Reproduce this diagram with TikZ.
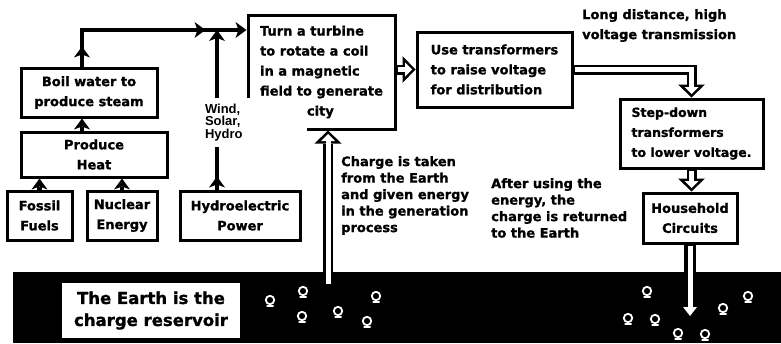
\documentclass[tikz,border=0pt]{standalone}
\usepackage{fontspec}
\setmainfont{DejaVu Sans}[BoldFeatures={FakeBold=1.2}]
\newfontfamily\windfont{Liberation Sans}
\usetikzlibrary{arrows.meta,decorations.markings}

\newcommand{\boxfont}{\fontsize{13}{20}\selectfont\bfseries}
\newcommand{\notefont}{\fontsize{13}{16.5}\selectfont\bfseries}
\newcommand{\earthfont}{\fontsize{16.5}{22}\selectfont\bfseries}

\tikzset{
  flowtip/.tip={Stealth[length=11pt,width=16pt,inset=3pt,line width=0pt]},
  flowbox/.style={draw, line width=3pt, inner sep=0pt, font=\boxfont, align=center},
  note/.style={inner sep=0pt, font=\notefont, align=left, anchor=north west},
  link/.style={line width=4.5pt, -flowtip},
  tipat/.style={postaction={decorate, decoration={markings, mark=at position #1 with {\arrow{flowtip}}}}},
  hollowout/.style={line width=10pt, -{Triangle[length=13pt,width=27pt,line width=0pt]}},
  hollowin/.style={white, line width=5pt, shorten <=1.5pt, shorten >=3.5pt, -{Triangle[length=7pt,width=14pt,line width=0pt]}},
  charge/.style={white, line width=1.8pt}
}

\begin{document}
\begin{tikzpicture}[x=1pt, y=-1pt]
\useasboundingbox (0,0) rectangle (781,343);

% generation side
\node[flowbox, minimum width=65, minimum height=49] (fossil) at (39.5,215.5) {Fossil\\Fuels};
\node[flowbox, minimum width=70, minimum height=49] (nuclear) at (122,215.5) {Nuclear\\Energy};
\node[flowbox, minimum width=120, minimum height=49] (hydro) at (240,215.5) {Hydroelectric\\Power};
\node[flowbox, minimum width=146, minimum height=45] (heat) at (94,154.5) {Produce\\Heat};
\node[flowbox, minimum width=136, minimum height=49] (boil) at (89,92.5) {Boil water to\\produce steam};
\node[flowbox, align=left, minimum width=147, minimum height=114] (turbine) at (321.5,72) {Turn a turbine\\to rotate a coil\\in a magnetic\\field to generate\\electricity};

% distribution side
\node[flowbox, align=left, minimum width=155, minimum height=75] (raise) at (494.5,69.5) {Use transformers\\to raise voltage\\for distribution};
\node[flowbox, align=left, minimum width=143, minimum height=69, font=\fontsize{12.5}{20}\selectfont\bfseries] (stepdown) at (691.5,133.5) {Step-down\\transformers\\to lower voltage.};
\node[flowbox, minimum width=94, minimum height=50] (household) at (690,218) {Household\\Circuits};

\node[note, font=\boxfont] (longdist) at (582,9) {Long distance, high\\voltage transmission};
\node[note] (taken) at (341,156) {Charge is taken\\from the Earth\\and given energy\\in the generation\\process};
\node[note] (returned) at (491,178) {After using the\\energy, the\\charge is returned\\to the Earth};

% the earth
\node[fill=black, inner sep=0pt, minimum width=768, minimum height=71] (earth) at (397,307.5) {};
\node[fill=white, inner sep=0pt, minimum width=178, minimum height=55, font=\earthfont, align=center] (reservoir) at (151,310.5) {The Earth is the\\charge reservoir};
\foreach \cx/\cy in {270/300,303/291,376/296,302/316,338/311,367/321,647/291,748/296,723/308,628/318,655/319,678/333,705/334}
  \draw[charge] (\cx,\cy) circle[radius=4.2] (\cx-3.5,\cy+6) -- (\cx+3.5,\cy+6);

% thin arrows
\coordinate (bend) at (82,30);
\draw[link, tipat=20pt, tipat=160pt] (bend |- boil.north) -- (bend) -- (turbine.west |- bend);
\draw[link] (bend |- heat.north) -- (bend |- boil.south);
\draw[link] (fossil.north) -- (fossil.north |- heat.south);
\draw[link] (nuclear.north) -- (nuclear.north |- heat.south);
\draw[link, tipat=13pt] ([xshift=-23pt]hydro.north) -- ([xshift=-23pt]hydro.north |- bend);

% hollow arrows
\coordinate (gen) at (328,285);
\draw[hollowout] (gen) -- (gen |- turbine.south);
\draw[hollowin] (gen) -- (gen |- turbine.south);
\draw[hollowout] (turbine.east |- raise.west) -- (raise.west);
\draw[hollowin] (turbine.east |- raise.west) -- (raise.west);
\draw[hollowout] (raise.east) -| (stepdown.north);
\draw[hollowin] (raise.east) -| (stepdown.north);
\draw[hollowout] (stepdown.south) -- (stepdown.south |- household.north);
\draw[hollowin] (stepdown.south) -- (stepdown.south |- household.north);
\coordinate (ret) at (690,316);
\draw[line width=12pt] (household.south) -- (household.south |- earth.north);
\draw[white, line width=5pt, shorten <=1.5pt, -{Triangle[length=9pt,width=14pt,line width=0pt]}] (household.south) -- (ret);

\node[fill=white, inner xsep=5pt, inner ysep=0pt, minimum width=107, minimum height=49, text width=97, align=left, font=\fontsize{13}{10}\windfont\bfseries] (sources) at (253.5,122.5) {Wind,\\Solar,\\Hydro};
\end{tikzpicture}
\end{document}
